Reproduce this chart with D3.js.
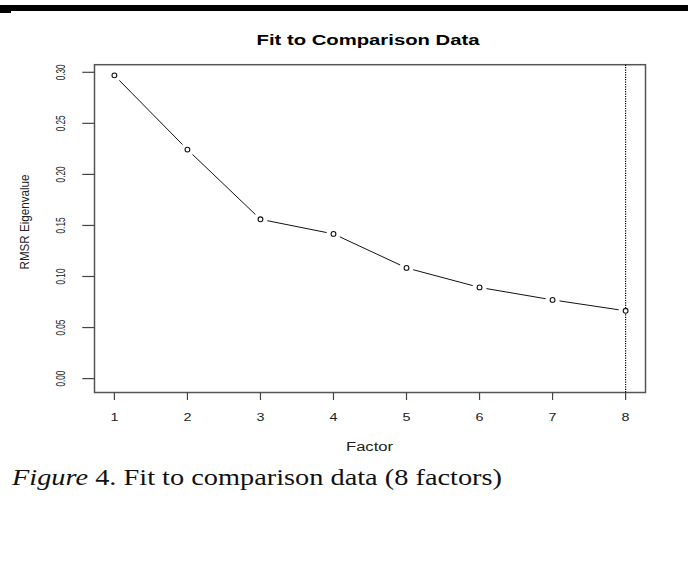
<!DOCTYPE html>
<html>
<head>
<meta charset="utf-8">
<script src="https://cdn.jsdelivr.net/npm/d3@7"></script>
<style>
  body { margin: 0; background: #fff; }
  svg { display: block; }
</style>
</head>
<body>
<div id="chart"></div>
<script>
var factors = [1, 2, 3, 4, 5, 6, 7, 8];
var rmsr = [0.297, 0.2243, 0.156, 0.1417, 0.1084, 0.0893, 0.0771, 0.0664];
var yTicks = [0.00, 0.05, 0.10, 0.15, 0.20, 0.25, 0.30];
var chosenFactor = 8;

var width = 700, height = 579;
var box = {left: 94.5, right: 645.5, top: 64.7, bottom: 392.5};

var svg = d3.select("#chart")
  .append("svg")
    .attr("width", width)
    .attr("height", height);

// heavy rule at the top of the page
svg.append("rect").attr("x", 0).attr("y", 5).attr("width", 688).attr("height", 6).attr("fill", "#000");
svg.append("rect").attr("x", 0).attr("y", 11).attr("width", 11).attr("height", 2).attr("fill", "#000");

var x = d3.scaleLinear()
    .domain([1, 8])
    .range([114.4, 625.6]);

var y = d3.scaleLinear()
    .domain([0, 0.30])
    .range([378.6, 72.3]);

// title
svg.append("text")
    .attr("x", 368)
    .attr("y", 44.5)
    .attr("text-anchor", "middle")
    .attr("font-family", "Liberation Sans, Arial, sans-serif")
    .attr("font-weight", 700)
    .attr("font-size", 14)
    .attr("textLength", 223)
    .attr("lengthAdjust", "spacingAndGlyphs")
    .text("Fit to Comparison Data");

// plot box
svg.append("rect")
    .attr("x", box.left)
    .attr("y", box.top)
    .attr("width", box.right - box.left)
    .attr("height", box.bottom - box.top)
    .attr("fill", "none")
    .attr("stroke", "#555")
    .attr("stroke-width", 1.5);

// y axis
var yAxis = svg.append("g");
yAxis.selectAll("line")
  .data(yTicks)
  .enter().append("line")
    .attr("x1", 82.3)
    .attr("x2", box.left)
    .attr("y1", function(d) { return y(d); })
    .attr("y2", function(d) { return y(d); })
    .attr("stroke", "#444")
    .attr("stroke-width", 1.2);

yAxis.selectAll("text")
  .data(yTicks)
  .enter().append("text")
    .attr("transform", function(d) { return "translate(64.5," + y(d) + ") rotate(-90)"; })
    .attr("text-anchor", "middle")
    .attr("font-family", "Liberation Sans, Arial, sans-serif")
    .attr("font-size", 12.5)
    .attr("fill", "#222")
    .attr("textLength", 16)
    .attr("lengthAdjust", "spacingAndGlyphs")
    .text(function(d) { return d.toFixed(2); });

svg.append("text")
    .attr("transform", "translate(29,222) rotate(-90)")
    .attr("text-anchor", "middle")
    .attr("font-family", "Liberation Sans, Arial, sans-serif")
    .attr("font-size", 12)
    .attr("fill", "#222")
    .attr("textLength", 95)
    .attr("lengthAdjust", "spacingAndGlyphs")
    .text("RMSR Eigenvalue");

// x axis
var xAxis = svg.append("g");
xAxis.selectAll("line")
  .data(factors)
  .enter().append("line")
    .attr("x1", function(d) { return x(d); })
    .attr("x2", function(d) { return x(d); })
    .attr("y1", box.bottom)
    .attr("y2", 400)
    .attr("stroke", "#444")
    .attr("stroke-width", 1.2);

xAxis.selectAll("text")
  .data(factors)
  .enter().append("text")
    .attr("x", function(d) { return x(d); })
    .attr("y", 421)
    .attr("text-anchor", "middle")
    .attr("font-family", "Liberation Sans, Arial, sans-serif")
    .attr("font-size", 11.5)
    .attr("fill", "#222")
    .attr("textLength", 8)
    .attr("lengthAdjust", "spacingAndGlyphs")
    .text(function(d) { return d; });

svg.append("text")
    .attr("x", 369.5)
    .attr("y", 451)
    .attr("text-anchor", "middle")
    .attr("font-family", "Liberation Sans, Arial, sans-serif")
    .attr("font-size", 12)
    .attr("fill", "#222")
    .attr("textLength", 47)
    .attr("lengthAdjust", "spacingAndGlyphs")
    .text("Factor");

// vertical dotted line at the retained number of factors
svg.append("line")
    .attr("x1", x(chosenFactor))
    .attr("x2", x(chosenFactor))
    .attr("y1", box.top)
    .attr("y2", box.bottom)
    .attr("stroke", "#000")
    .attr("stroke-width", 1.2)
    .attr("stroke-dasharray", "1.2,1.2");

// line segments with gaps round the points (R type = "b")
var pts = factors.map(function(f, i) { return [x(f), y(rmsr[i])]; });
var segs = d3.pairs(pts);
var gap = 7;
svg.append("g")
  .selectAll("line")
  .data(segs)
  .enter().append("line")
    .each(function(d) {
      var dx = d[1][0] - d[0][0], dy = d[1][1] - d[0][1];
      var len = Math.sqrt(dx * dx + dy * dy);
      var ux = dx / len, uy = dy / len;
      d3.select(this)
        .attr("x1", d[0][0] + ux * gap)
        .attr("y1", d[0][1] + uy * gap)
        .attr("x2", d[1][0] - ux * gap)
        .attr("y2", d[1][1] - uy * gap);
    })
    .attr("stroke", "#111")
    .attr("stroke-width", 1);

svg.append("g")
  .selectAll("circle")
  .data(pts)
  .enter().append("circle")
    .attr("cx", function(d) { return d[0]; })
    .attr("cy", function(d) { return d[1]; })
    .attr("r", 2.4)
    .attr("fill", "#fff")
    .attr("stroke", "#111")
    .attr("stroke-width", 1.1);

// caption
var cap = svg.append("text")
    .attr("x", 12)
    .attr("y", 485)
    .attr("font-family", "Liberation Serif, Times New Roman, serif")
    .attr("font-size", 24)
    .attr("fill", "#111")
    .attr("textLength", 490)
    .attr("lengthAdjust", "spacingAndGlyphs");
cap.append("tspan").attr("font-style", "italic").text("Figure");
cap.append("tspan").text(" 4. Fit to comparison data (8 factors)");
</script>
</body>
</html>
